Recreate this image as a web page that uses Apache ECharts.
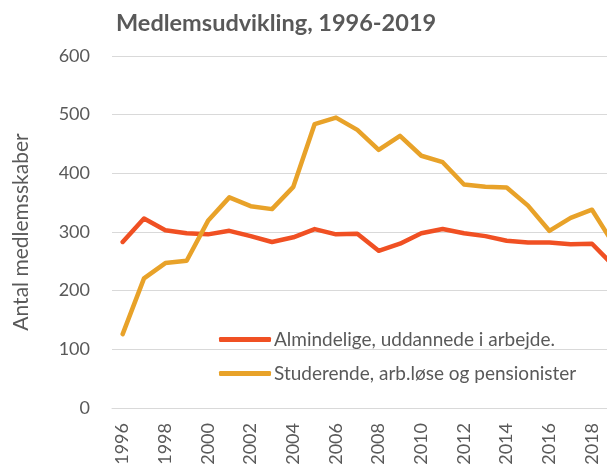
<!DOCTYPE html>
<html><head><meta charset="utf-8">
<script src="https://cdn.jsdelivr.net/npm/echarts@6/dist/echarts.min.js"></script>
<style>html,body{margin:0;padding:0;background:#fff}#c{width:607px;height:464px}</style>
</head><body><div id="c"></div>
<script>
const titleText = 'Medlemsudvikling, 1996-2019';
const yAxisName = 'Antal medlemsskaber';
const years = ['1996','1997','1998','1999','2000','2001','2002','2003','2004','2005','2006','2007','2008','2009','2010','2011','2012','2013','2014','2015','2016','2017','2018','2019'];
const seriesNames = ['Almindelige, uddannede i arbejde.', 'Studerende, arb.løse og pensionister'];
const almindelige = [283,323,303,298,296,302,293,283,291,305,296,297,268,280,298,305,298,293,285,282,282,279,280,243];
const studerende = [126,221,247,251,319,359,344,339,377,484,495,474,440,464,430,419,381,377,376,345,302,324,338,280];
const yMin = 0, yMax = 600, yInterval = 100;

const font = 'Lato, "Open Sans", sans-serif';
const grey = '#595959';
const chart = echarts.init(document.getElementById('c'));
chart.setOption({
  animation: false,
  backgroundColor: '#fff',
  title: {text: titleText, left: 111, top: 6,
    textStyle: {fontFamily: font, fontSize: 23.5, fontWeight: 'bold', color: grey}},
  legend: {
    orient: 'vertical', left: 214, top: 325, itemWidth: 52, itemHeight: 5, itemGap: 15,
    icon: 'roundRect',
    data: seriesNames,
    textStyle: {fontFamily: font, fontSize: 19, color: grey, padding: [0, 0, 0, -2]}
  },
  grid: {left: 112, right: -17, top: 56, bottom: 56, containLabel: false, outerBoundsMode: 'none'},
  xAxis: {
    type: 'category', data: years, boundaryGap: true,
    axisLine: {show: true, lineStyle: {color: '#d9d9d9', width: 1}},
    axisTick: {show: false},
    axisLabel: {interval: 1, rotate: 90, margin: 15, fontFamily: font, fontSize: 18, color: grey}
  },
  yAxis: {
    type: 'value', min: yMin, max: yMax, interval: yInterval,
    name: yAxisName, nameLocation: 'middle', nameGap: 80,
    nameTextStyle: {fontFamily: font, fontSize: 21, color: grey},
    axisLine: {show: false}, axisTick: {show: false},
    axisLabel: {margin: 22, fontFamily: font, fontSize: 18, color: grey},
    splitLine: {lineStyle: {color: '#d9d9d9', width: 1}}
  },
  series: [
    {name: seriesNames[0], type: 'line', data: almindelige, symbol: 'none',
     lineStyle: {color: '#F05023', width: 4.5, cap: 'round', join: 'round'}, itemStyle: {color: '#F05023'}},
    {name: seriesNames[1], type: 'line', data: studerende, symbol: 'none',
     lineStyle: {color: '#E8A229', width: 4.5, cap: 'round', join: 'round'}, itemStyle: {color: '#E8A229'}}
  ]
});
</script></body></html>
